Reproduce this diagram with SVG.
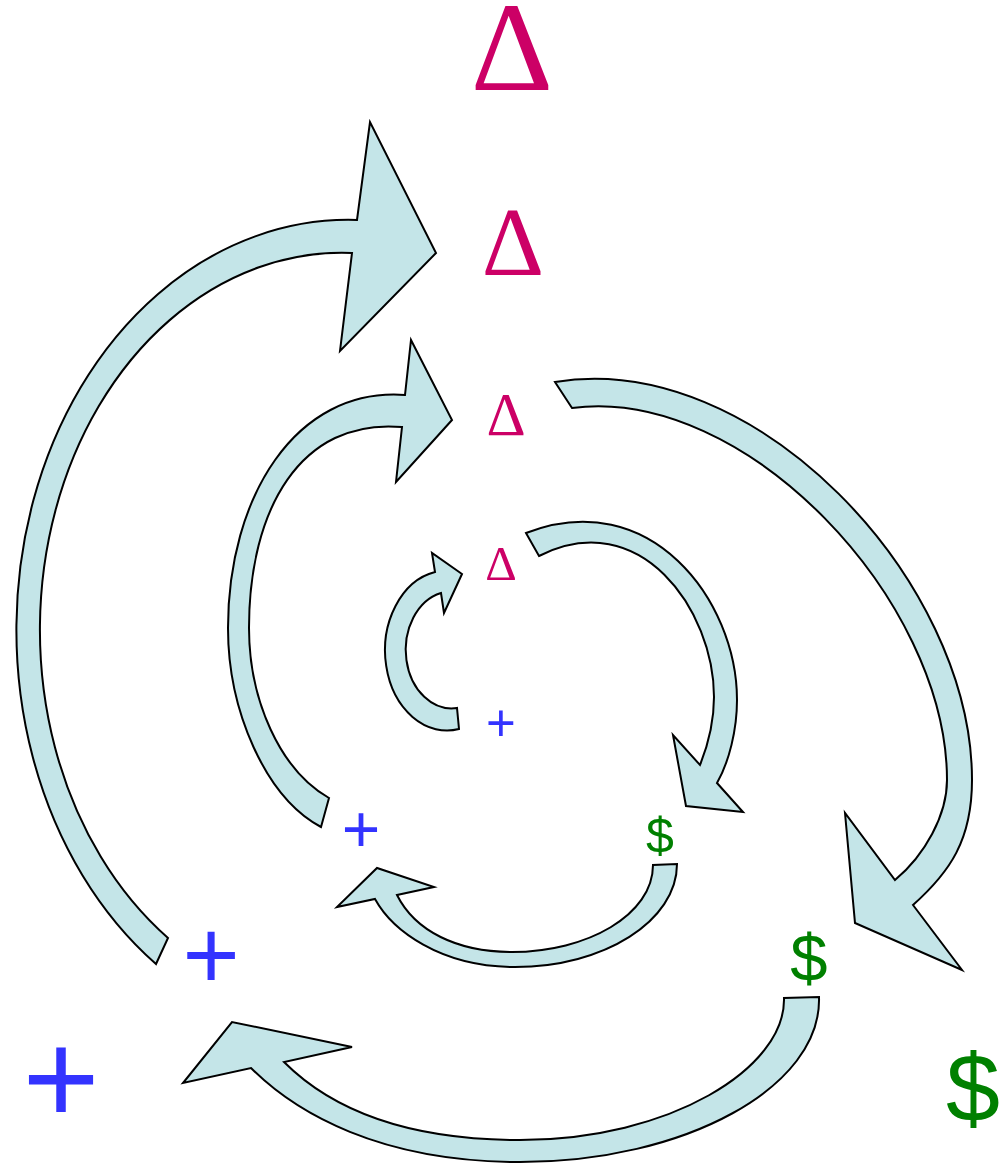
<svg xmlns="http://www.w3.org/2000/svg" width="1000" height="1167" viewBox="0 0 1000 1167">
<style>
.arr{fill:#c4e5e8;stroke:#000;stroke-width:2;stroke-linejoin:miter}
.t{font-family:"Liberation Sans",Arial,sans-serif;text-anchor:middle}
.d{font-family:"Liberation Serif","Times New Roman",serif;fill:#cc0066}
.p{fill:#3333ff}
.s{fill:#008000}
</style>
<rect width="1000" height="1167" fill="#fff"/>
<g id="connectors">
<path id="arrowA" class="arr" d="M156,964 A332 410 0 0 1 357,220 L370,122 L436,253 L340,351 L352,253 A302 377 0 0 0 168,938 Z"/>
<path id="arrowB" class="arr" d="M321,827 C265,797 228,710 228,628 C228,498 295,387 405,395 L411,340 L452,420 L396,482 L402,427 C300,418 249,510 249,628 C249,700 280,770 329,798 Z"/>
<path id="arrowC" class="arr" d="M459,729 A62 80 0 0 1 435,572 L432,553 L462,574 L444,613 L441,593 A46 58.5 0 0 0 457,708 Z"/>
<path id="arrowD" class="arr" d="M526,533 C650,485 737,600 737,700 C737,730 729,762 717,783 L743,812 L686,806 L673,735 L700,765 C708,745 714,720 714,697 C714,610 640,505 539,556 Z"/>
<path id="arrowE" class="arr" d="M555,382 C755,349 972,580 972,780 C972,840 950,872 913,905 L962,970 L855,923 L845,813 L895,880 C925,855 947,815 947,780 C947,600 745,385 572,408 Z"/>
<path id="arrowF" class="arr" d="M677,864 C677,921 604,967 515,967 C440,967 392,930 375,899 L337,907 L377,868 L434,887 L397,895 C415,931 457,952 512,952 C587,952 653,915 653,865 Z"/>
<path id="arrowG" class="arr" d="M819,997 C822,1087 685,1162 520,1162 C380,1162 296,1113 251,1068 L183,1083 L232,1022 L352,1047 L284,1062 C329,1107 400,1140 520,1140 C670,1140 786,1068 784,998 Z"/>
</g>
<g id="delta1"><text class="t d" x="512" y="90" font-size="128">Δ</text></g>
<g id="delta2"><text class="t d" x="513" y="275" font-size="97">Δ</text></g>
<g id="delta3"><text class="t d" x="506" y="435" font-size="61">Δ</text></g>
<g id="delta4"><text class="t d" x="501" y="580" font-size="49">Δ</text></g>
<g id="plus1"><text class="t p" x="501" y="741" font-size="51">+</text></g>
<g id="plus2"><text class="t p" x="361" y="852" font-size="66">+</text></g>
<g id="plus3"><text class="t p" x="211" y="989" font-size="98">+</text></g>
<g id="plus4"><text class="t p" x="61" y="1124" font-size="132">+</text></g>
<g id="dollar1"><text class="t s" x="660" y="853" font-size="50">$</text></g>
<g id="dollar2"><text class="t s" x="809" y="981" font-size="67">$</text></g>
<g id="dollar3"><text class="t s" x="973" y="1121" font-size="97">$</text></g>
</svg>
